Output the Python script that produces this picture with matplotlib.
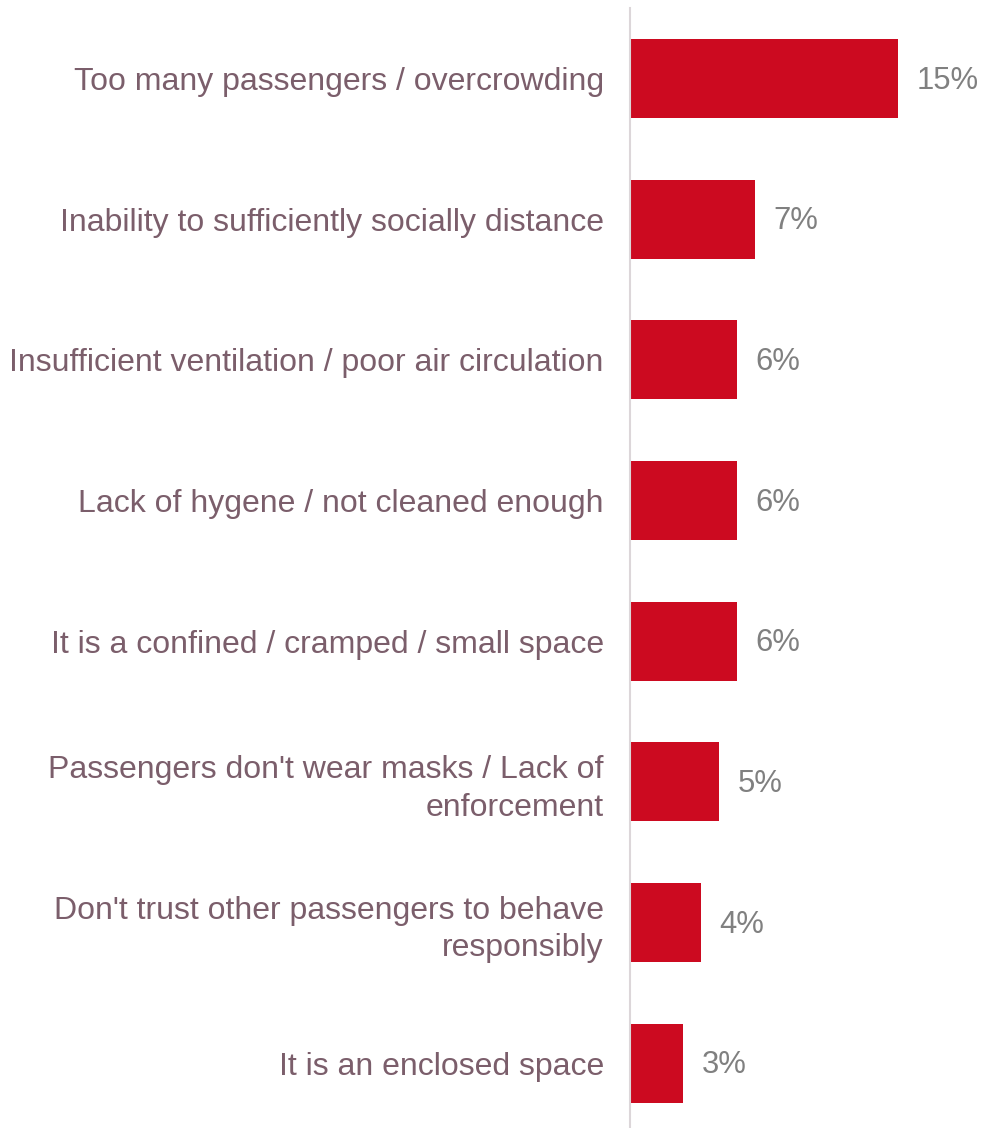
import matplotlib
matplotlib.use("Agg")
import matplotlib.pyplot as plt

categories = [
    "Too many passengers / overcrowding",
    "Inability to sufficiently socially distance",
    "Insufficient ventilation / poor air circulation",
    "Lack of hygene / not cleaned enough",
    "It is a confined / cramped / small space",
    "Passengers don't wear masks / Lack of\nenforcement",
    "Don't trust other passengers to behave\nresponsibly",
    "It is an enclosed space",
]
values = [15, 7, 6, 6, 6, 5, 4, 3]
value_labels = ["15%", "7%", "6%", "6%", "6%", "5%", "4%", "3%"]

W, H = 982, 1128
fig = plt.figure(figsize=(W / 100, H / 100), dpi=100)
x0 = 629.5
ax = fig.add_axes([x0 / W, 0, 1 - x0 / W, (H - 8) / H])

pos = list(range(len(categories)))
ax.barh(pos, values, height=0.562, color="#CC0A20", zorder=2)
ax.set_ylim(7.462, -0.503)
ax.set_xlim(0, (W - x0) / 17.87)

for s in ["top", "right", "bottom"]:
    ax.spines[s].set_visible(False)
ax.spines["left"].set_color("#DCD6D9")
ax.spines["left"].set_linewidth(1.5)
ax.set_xticks([])
ax.set_yticks(pos)
ax.set_yticklabels(categories, fontsize=23.0, color="#7B5E6B",
                   fontfamily="Liberation Sans", linespacing=1.32)
ax.tick_params(axis="y", length=0, pad=18.5)

for p, v, lab in zip(pos, values, value_labels):
    ax.annotate(lab, (v, p), xytext=(13.5, -1.5), textcoords="offset points",
                va="center", ha="left", fontsize=22.3, color="#808080",
                fontfamily="Liberation Sans")

fig.savefig("out.png", dpi=100)
